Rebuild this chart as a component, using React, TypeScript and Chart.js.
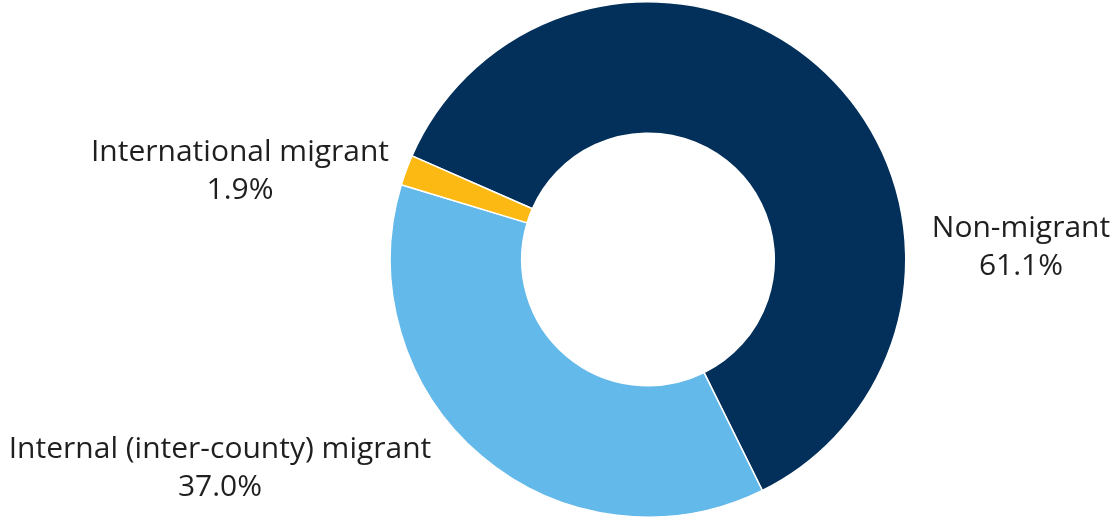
import React, { useEffect, useRef } from "react";
import { Chart, registerables } from "chart.js";

Chart.register(...registerables);

const categories = ["Non-migrant", "Internal (inter-county) migrant", "International migrant"];
const values = [61.1, 37.0, 1.9];
const valueLabels = ["61.1%", "37.0%", "1.9%"];
const colors = ["#02305A", "#63B9E9", "#FDB913"];
// label anchor offsets relative to doughnut centre (text centre of first line)
const labelOffsets = [
  [373, -31],
  [-428, 190],
  [-408, -107],
];

const labelPlugin = {
  id: "outerLabels",
  afterDraw(chart: any) {
    const ctx = chart.ctx;
    const meta = chart.getDatasetMeta(0);
    const arc = meta.data[0];
    if (!arc) return;
    const cx = arc.x;
    const cy = arc.y;
    ctx.save();
    ctx.fillStyle = "#1f1f1f";
    ctx.font = "30px 'Open Sans'";
    ctx.textAlign = "center";
    ctx.textBaseline = "middle";
    categories.forEach((c, i) => {
      const [dx, dy] = labelOffsets[i];
      ctx.fillText(c, cx + dx, cy + dy);
      ctx.fillText(valueLabels[i], cx + dx, cy + dy + 38);
    });
    ctx.restore();
  },
};

export default function App() {
  const ref = useRef<HTMLCanvasElement>(null);
  useEffect(() => {
    document.body.style.margin = "0";
    const chart = new Chart(ref.current!, {
      type: "doughnut",
      data: {
        labels: categories,
        datasets: [
          {
            data: values,
            backgroundColor: colors,
            borderColor: "#ffffff",
            borderWidth: 1.5,
          },
        ],
      },
      options: {
        animation: false,
        responsive: false,
        maintainAspectRatio: false,
        cutout: "49%",
        rotation: -66.3,
        layout: { padding: { left: 389, right: 209, top: 1, bottom: -1 } },
        plugins: {
          legend: { display: false },
          tooltip: { enabled: false },
        },
      },
      plugins: [labelPlugin],
    });
    return () => chart.destroy();
  }, []);
  return (
    <div style={{ width: 1116, height: 518 }}>
      <canvas ref={ref} width={1116} height={518} style={{ width: 1116, height: 518, display: "block" }} />
    </div>
  );
}
